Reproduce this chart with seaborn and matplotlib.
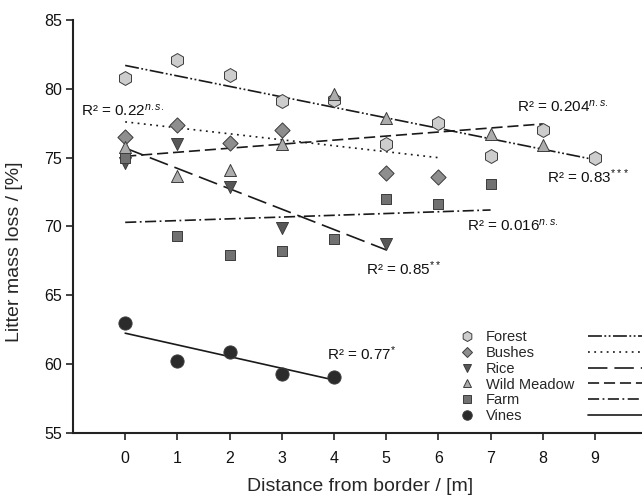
import numpy as np
import pandas as pd
import seaborn as sns
import matplotlib.pyplot as plt
from matplotlib.lines import Line2D

# litter mass loss (%) per land use vs. distance from border (m)
groups = ["Forest", "Bushes", "Rice", "Wild Meadow", "Farm", "Vines"]

forest_x = [0, 1, 2, 3, 4, 5, 6, 7, 8, 9]
forest_y = [80.8, 82.1, 81.0, 79.1, 79.2, 76.0, 77.5, 75.1, 77.0, 75.0]
bushes_x = [0, 1, 2, 3, 5, 6]
bushes_y = [76.5, 77.4, 76.1, 77.0, 73.9, 73.6]
rice_x = [0, 1, 2, 3, 5]
rice_y = [74.6, 76.0, 72.9, 69.9, 68.7]
meadow_x = [0, 1, 2, 3, 4, 5, 7, 8]
meadow_y = [75.8, 73.7, 74.1, 76.0, 79.6, 77.9, 76.7, 75.9]
farm_x = [0, 1, 2, 3, 4, 5, 6, 7]
farm_y = [75.0, 69.3, 67.9, 68.2, 69.1, 72.0, 71.6, 73.1]
vines_x = [0, 1, 2, 3, 4]
vines_y = [63.0, 60.2, 60.9, 59.3, 59.1]

# regression lines: start / end of each fitted line
trend_x0 = [0, 0, 0, 0, 0, 0]
trend_x1 = [9, 6, 5, 8, 7, 4]
trend_y0 = [81.7, 77.6, 75.7, 75.1, 70.3, 62.25]
trend_y1 = [74.85, 75.0, 68.3, 77.45, 71.2, 58.85]

r2_labels = [
    r"R² = 0.83$^{***}$",
    r"R² = 0.22$^{\mathit{n.s.}}$",
    r"R² = 0.85$^{**}$",
    r"R² = 0.204$^{\mathit{n.s.}}$",
    r"R² = 0.016$^{\mathit{n.s.}}$",
    r"R² = 0.77$^{*}$",
]
r2_pos = [(8.08, 73.6), (-0.84, 78.45), (4.62, 66.9), (7.51, 78.7), (6.55, 70.1), (3.87, 60.75)]

xs = [forest_x, bushes_x, rice_x, meadow_x, farm_x, vines_x]
ys = [forest_y, bushes_y, rice_y, meadow_y, farm_y, vines_y]
df = pd.concat(
    [pd.DataFrame({"dist": x, "loss": y, "group": g}) for g, x, y in zip(groups, xs, ys)],
    ignore_index=True,
)

markers = {"Forest": "h", "Bushes": "D", "Rice": "v", "Wild Meadow": "^", "Farm": "s", "Vines": "o"}
palette = {"Forest": "#cdcdcd", "Bushes": "#8e8e8e", "Rice": "#575757",
           "Wild Meadow": "#acacac", "Farm": "#717171", "Vines": "#2b2b2b"}
sizes = {"Forest": 100, "Bushes": 60, "Rice": 75, "Wild Meadow": 75, "Farm": 58, "Vines": 90}
dashes = [(10, 1.8, 1.3, 1.8, 1.3, 1.8), (1.3, 3.2), (14, 5), (8, 3.5), (8, 2.5, 1.3, 2.5), ()]

sns.set_style("white")
plt.rcParams["font.family"] = ["Liberation Sans", "DejaVu Sans"]
plt.rcParams["mathtext.fontset"] = "custom"
plt.rcParams["mathtext.rm"] = "Liberation Sans"
plt.rcParams["mathtext.it"] = "Liberation Sans:italic"
plt.rcParams["lines.scale_dashes"] = False

fig = plt.figure(figsize=(6.42, 5.0), dpi=100)
ax = fig.add_axes([73 / 642, 1 - 433 / 500, 1 - 73 / 642, 413 / 500])

for i, g in enumerate(groups):
    ax.plot([trend_x0[i], trend_x1[i]], [trend_y0[i], trend_y1[i]],
            color="#1a1a1a", lw=1.2, dashes=dashes[i] if dashes[i] else (None, None),
            linestyle="-", zorder=2)

for g in groups:
    sns.scatterplot(data=df[df.group == g], x="dist", y="loss", marker=markers[g],
                    color=palette[g], s=sizes[g], edgecolor="#3c3c3c", linewidth=0.7,
                    ax=ax, zorder=3, legend=False)

for lab, (tx, ty) in zip(r2_labels, r2_pos):
    ax.text(tx, ty, lab, fontsize=11, va="center", ha="left", color="#111111")

ax.set_xlim(-1, 9.9)
ax.set_ylim(55, 85)
ax.set_xticks(range(10))
ax.set_yticks(range(55, 86, 5))
ax.tick_params(axis="both", direction="out", length=5, width=1.2, labelsize=11.5,
               color="#222222", labelcolor="#111111", bottom=True, left=True)
ax.tick_params(axis="x", pad=8)
ax.tick_params(axis="y", pad=3)
for s in ["top", "right"]:
    ax.spines[s].set_visible(False)
for s in ["left", "bottom"]:
    ax.spines[s].set_linewidth(1.5)
    ax.spines[s].set_color("#222222")

ax.set_xlabel("Distance from border / [m]", fontsize=14)
ax.set_ylabel("Litter mass loss / [%]", fontsize=14)
ax.xaxis.set_label_coords(0.504, -0.108)
ax.yaxis.set_label_coords(-0.088, 0.44)

mk_handles = [Line2D([], [], ls="", marker=markers[g], markerfacecolor=palette[g],
                     markeredgecolor="#3c3c3c", markeredgewidth=0.7,
                     markersize=np.sqrt(sizes[g]) * 0.72) for g in groups]
leg1 = ax.legend(mk_handles, groups, loc="upper left", bbox_to_anchor=(452 / 642, 1 - 323 / 500),
                 bbox_transform=fig.transFigure, frameon=False, fontsize=10.5,
                 handlelength=1.0, handletextpad=0.8, labelspacing=0.12, borderpad=0)
ax.add_artist(leg1)
ln_handles = [Line2D([], [], color="#1a1a1a", lw=1.2, dashes=d if d else (None, None)) for d in dashes]
ax.legend(ln_handles, [""] * 6, loc="upper left", bbox_to_anchor=(581 / 642, 1 - 323 / 500),
          bbox_transform=fig.transFigure, frameon=False, fontsize=10.5,
          handlelength=3.7, handletextpad=0, labelspacing=0.12, borderpad=0)

fig.savefig("out.png", dpi=100)
